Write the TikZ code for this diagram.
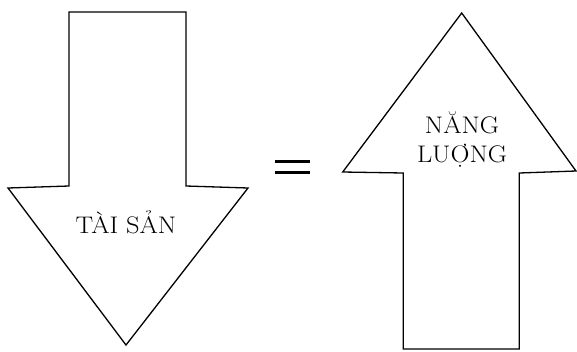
\documentclass[tikz,border=0pt]{standalone}
\usepackage{fontspec}
\setmainfont{Latin Modern Roman}
\begin{document}
\begin{tikzpicture}[x=1pt,y=-1pt,
  arrowshape/.style={draw=black,line width=1.3pt,line join=miter},
  lbl/.style={font=\fontsize{24}{30}\selectfont,align=center,inner sep=0pt},
  eqbar/.style={draw=black,line width=3pt}]
\useasboundingbox (0,0) rectangle (577,351);
% left arrow (down)
\draw[arrowshape] (69,12) -- (186,12) -- (186,186) -- (248,188) -- (126,345) -- (8,188) -- (69,186) -- cycle;
\node[lbl] (tai) at (126,222) {\scalebox{1.1}[1]{TÀI SẢN}};
% equals
\coordinate (e1a) at (275,161); \coordinate (e1b) at (310,161);
\coordinate (e2a) at (275,172); \coordinate (e2b) at (310,172);
\draw[eqbar] (e1a) -- (e1b);
\draw[eqbar] (e2a) -- (e2b);
% right arrow (up)
\draw[arrowshape] (461.7,13) -- (576,171) -- (519.3,173) -- (519.3,349) -- (403.3,349) -- (403.3,173) -- (342.7,172) -- cycle;
\node[lbl] (nang) at (462,139) {\scalebox{1.1}[1]{NĂNG}\\[-1pt]\scalebox{1.1}[1]{LUỢNG}};
\end{tikzpicture}
\end{document}
